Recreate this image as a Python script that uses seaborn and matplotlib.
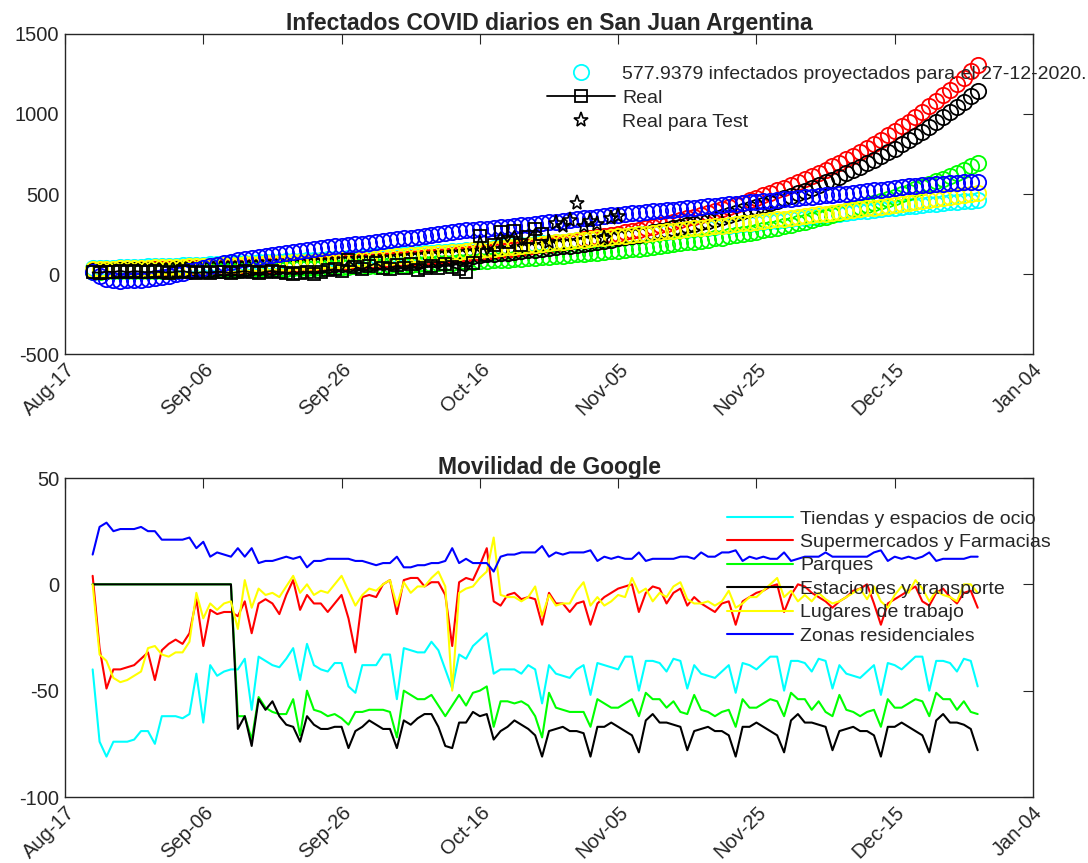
import numpy as np
import pandas as pd
import matplotlib
matplotlib.use("Agg")
import matplotlib.pyplot as plt
import matplotlib.dates as mdates
from matplotlib.lines import Line2D
from matplotlib.ticker import FixedLocator
import seaborn as sns

# ---------------- data ----------------
proj_start = "2020-08-21"
n_days = 129

proj_cyan = [35, 37, 38, 39, 41, 42, 44, 45, 47, 48, 50, 51, 52, 54, 55, 57, 58,
             60, 62, 64, 66, 67, 69, 71, 73, 75, 77, 78, 80, 82, 84, 86, 88, 89, 91, 93, 95,
             98, 101, 104, 107, 110, 113, 116, 119, 122, 125, 128, 131, 134, 137, 140, 143, 146, 149, 152, 155,
             159, 163, 167, 171, 175, 179, 183, 187, 191, 195, 199, 203, 207, 211, 215, 219, 223, 227, 231, 235,
             239, 244, 248, 252, 256, 260, 265, 269, 273, 277, 281, 286, 290, 294, 298, 302, 307, 311, 315, 320,
             325, 330, 334, 339, 344, 349, 353, 358, 363, 368, 372, 377, 382, 387, 391, 396, 401, 406, 410, 415,
             419, 423, 427, 431, 435, 439, 443, 447, 451, 454, 458, 462]
proj_red = [23, 24, 24, 25, 26, 27, 28, 29, 30, 30,
            31, 32, 33, 35, 36, 37, 38, 39, 40, 42,
            43, 45, 46, 47, 49, 51, 52, 54, 56, 57,
            59, 61, 63, 65, 67, 69, 71, 74, 76, 79,
            81, 84, 86, 89, 92, 95, 98, 101, 104, 108,
            111, 115, 118, 122, 126, 130, 134, 139, 143, 148,
            152, 157, 162, 168, 173, 179, 184, 190, 196, 203,
            209, 216, 223, 230, 237, 245, 253, 261, 269, 278,
            287, 296, 306, 315, 325, 336, 347, 358, 369, 381,
            393, 406, 419, 432, 446, 461, 475, 491, 506, 523,
            540, 557, 575, 593, 612, 632, 652, 673, 695, 717,
            740, 764, 788, 814, 840, 867, 894, 923, 953, 983,
            1015, 1048, 1081, 1116, 1152, 1189, 1227, 1266, 1307]
proj_green = [15, 15, 16, 16, 17, 17, 18, 18, 19, 20,
              20, 21, 21, 22, 23, 23, 24, 25, 26, 26,
              27, 28, 29, 30, 31, 32, 32, 33, 34, 36,
              37, 38, 39, 40, 41, 43, 44, 45, 47, 48,
              49, 51, 53, 54, 56, 57, 59, 61, 63, 65,
              67, 69, 71, 73, 75, 78, 80, 82, 85, 87,
              90, 93, 96, 99, 102, 105, 108, 111, 115, 118,
              122, 125, 129, 133, 137, 141, 146, 150, 155, 159,
              164, 169, 174, 180, 185, 191, 197, 202, 209, 215,
              222, 228, 235, 243, 250, 258, 265, 273, 282, 290,
              299, 308, 318, 327, 337, 348, 358, 369, 380, 392,
              404, 416, 429, 442, 455, 469, 483, 498, 513, 529,
              545, 562, 579, 596, 615, 633, 653, 672, 693]
proj_black = [20, 21, 21, 22, 23, 24, 24, 25, 26, 27,
              28, 28, 29, 30, 31, 32, 33, 34, 35, 37,
              38, 39, 40, 42, 43, 44, 46, 47, 49, 50,
              52, 54, 55, 57, 59, 61, 63, 65, 67, 69,
              71, 73, 76, 78, 81, 83, 86, 89, 92, 94,
              97, 101, 104, 107, 111, 114, 118, 122, 126, 129,
              134, 138, 142, 147, 152, 157, 162, 167, 172, 178,
              183, 189, 195, 202, 208, 215, 222, 229, 236, 244,
              252, 260, 268, 277, 285, 295, 304, 314, 324, 334,
              345, 356, 368, 379, 391, 404, 417, 430, 444, 458,
              473, 488, 504, 520, 537, 554, 572, 590, 609, 629,
              649, 670, 691, 714, 736, 760, 784, 810, 836, 862,
              890, 919, 948, 979, 1010, 1043, 1076, 1110, 1146]
proj_yellow = [30, 31, 33, 34, 35, 36, 38, 39, 40, 41, 43, 44, 45, 46, 48, 49, 50,
               52, 54, 55, 57, 59, 61, 62, 64, 66, 68, 69, 71, 73, 75, 76, 78, 80, 82, 83, 85,
               88, 91, 95, 98, 101, 105, 108, 111, 114, 118, 121, 124, 127, 131, 134, 137, 140, 144, 147, 150,
               154, 159, 163, 167, 171, 176, 180, 184, 188, 193, 197, 201, 205, 210, 214, 218, 222, 227, 231, 235,
               240, 244, 249, 253, 258, 262, 267, 271, 276, 280, 285, 289, 294, 298, 303, 307, 312, 316, 321, 325,
               330, 336, 341, 346, 352, 357, 362, 367, 373, 378, 383, 389, 394, 399, 405, 410, 415, 420, 426, 431,
               437, 443, 449, 456, 462, 468, 474, 480, 486, 492, 498, 504]
proj_blue = [15, -10, -30, -40, -42, -40, -38, -35, -30, -25, -18, -10, -2, 8, 18, 28, 38, 48, 57, 66,
             78, 86, 94, 101, 108, 114, 120, 126, 132, 139,
             145, 151, 157, 163, 168, 172, 177, 181, 186, 190, 195, 200, 205, 210, 216, 222, 228, 234,
             240, 246, 251, 256, 262, 268, 272, 276, 280, 284, 288, 292, 296, 300, 304, 308, 313, 318,
             323, 328, 333, 338, 343, 348, 353, 358, 363, 367, 371, 375, 379, 383,
             387, 391, 395, 399, 403, 407, 411, 415, 419, 423, 427, 431, 435, 439, 443, 447, 451, 455, 459, 463,
             467, 471, 475, 479, 483, 487, 491, 495, 499, 503, 507, 512, 517, 522, 527, 532, 537, 542, 547,
             551, 555, 559, 562, 565, 568, 571, 574, 576, 578]

real_start = "2020-08-21"
real_cases = [10, 8, 15, 12, 20, 10, 18, 14, 10, 16,
              12, 8, 14, 18, 10, 6, 12, 8, 15, 10,
              5, 12, 18, 10, 6, 14, 20, 12, 8, 0,
              5, 15, 0, 10, 25, 30, 20, 85, 45, 30,
              50, 68, 40, 30, 55, 35, 60, 25, 40, 50,
              35, 60, 45, 30, 15, 70, 240, 120, 180, 260,
              200, 270, 180, 230, 280, 250]
test_start = "2020-10-26"
test_cases = [200, 320, 300, 340, 446, 300, 330, 310, 225, 350, 365]

mob_start = "2020-08-21"
tiendas = [-40, -74, -81, -74, -74, -74, -73, -69, -69, -75, -62, -62, -62, -63, -61, -42, -65, -38, -43, -41,
           -40, -40, -35, -59, -34, -36, -38, -39, -35, -30, -45, -28, -38, -40, -41, -37, -37, -48, -51, -38,
           -38, -38, -33, -33, -54, -30, -31, -32, -32, -27, -31, -40, -49, -33, -35, -29, -26, -23, -42, -40,
           -40, -40, -42, -38, -40, -56, -38, -42, -43, -44, -40,
           -38, -52, -37, -38, -39, -40, -34, -34, -50, -36, -36, -37, -41, -35, -36, -49, -38, -42, -43, -44,
           -41, -38, -51, -37, -38, -40, -37, -34, -34, -50, -36, -36, -37, -41, -35, -36, -49, -38, -42, -43,
           -44, -41, -38, -52, -37, -38, -40, -37, -34, -34, -50, -36, -36, -37, -41, -35, -36, -48]
supermercados = [4, -30, -49, -40, -40, -39, -38, -35, -32, -45, -31, -28, -26, -28, -23, -7, -29, -12, -14, -13,
                 -13, -15, -8, -23, -9, -7, -9, -14, -5, 2, -12, -5, -9, -9, -13, -9, -5, -16, -32, -6,
                 -5, -6, 0, 2, -14, 2, 3, 3, -1, 1, 1, -5, -29, 1, 3, 2, 9, 17, -8, -10,
                 -5, -4, -7, -6, -7, -19, -4, -9, -9, -13, -9,
                 -8, -19, -9, -6, -4, -2, -1, 0, -13, -4, -1, -2, -9, -4, -2, -10, -6, -9, -11, -13,
                 -9, -8, -19, -8, -6, -4, -3, -1, 0, -13, -5, 0, -1, -4, -6, -8, -11, -8, -6, -3,
                 -2, 0, -9, -19, -9, -7, -5, -3, -1, -8, -10, -4, -2, -6, -9, -4, -3, -11]
parques = [0] * 21 + [
    -62, -62, -73, -53, -58, -60, -61, -61, -54, -71, -50, -59, -60, -62, -61, -63, -66, -60, -60, -59,
    -59, -59, -60, -72, -50, -52, -54, -54, -52, -57, -62, -57, -52, -57, -51, -50, -48, -67, -55, -55,
    -56, -55, -57, -62, -72, -51, -58, -59, -60, -60,
    -60, -67, -54, -56, -58, -58, -56, -54, -62, -51, -54, -54, -58, -55, -60, -61, -52, -59, -60, -62,
    -60, -59, -67, -54, -58, -58, -56, -54, -55, -62, -51, -54, -54, -59, -55, -60, -62, -52, -59, -60,
    -62, -60, -59, -67, -54, -58, -58, -56, -54, -55, -62, -51, -54, -54, -59, -55, -60, -61]
estaciones = [0] * 21 + [
    -68, -62, -76, -54, -59, -55, -62, -66, -67, -74, -62, -66, -68, -68, -67, -67, -77, -69, -67, -64,
    -66, -68, -68, -77, -64, -66, -63, -61, -61, -67, -76, -77, -65, -65, -60, -62, -61, -73, -69, -67,
    -64, -66, -68, -71, -81, -69, -68, -67, -69, -69,
    -70, -81, -67, -67, -65, -67, -69, -71, -79, -64, -61, -65, -65, -66, -67, -78, -69, -68, -67, -69,
    -69, -71, -81, -67, -67, -65, -67, -69, -71, -79, -64, -61, -65, -65, -66, -67, -78, -69, -68, -67,
    -69, -69, -71, -81, -67, -67, -65, -67, -69, -71, -79, -64, -61, -65, -65, -66, -68, -78]
trabajo = [0, -33, -36, -44, -46, -45, -43, -41, -30, -29, -33, -34, -32, -32, -27, -4, -16, -9, -12, -9,
           -8, -21, 2, -11, -2, -5, -4, -6, -1, 4, -4, 0, -5, -3, -4, 0, 4, -3, -10, -5,
           -2, -3, 0, 2, -10, 1, -4, -1, -1, 3, 6, -1, -50, -4, -2, -1, 3, 6, 22, -5,
           -6, -6, -8, -6, -1, -15, -5, -10, -9, -9, -3,
           1, -10, -6, -10, -8, -5, -6, 3, -4, -2, -8, -4, -6, -1, 1, -7, -9, -9, -8, -10,
           -8, -3, -11, -9, -6, -6, -3, 0, 3, -6, -3, -8, -5, -8, -4, -7, -9, -8, -6, -4,
           -2, -7, -1, -8, -11, -5, -1, -4, 2, -2, -8, -3, -5, -6, -8, 0, 0, -4]
residenciales = [14, 27, 29, 25, 26, 26, 26, 27, 25, 25, 21, 21, 21, 21, 22, 17, 20, 13, 15, 14,
                 13, 17, 13, 17, 10, 11, 11, 12, 13, 12, 13, 8, 11, 11, 12, 12, 12, 12, 11, 11,
                 10, 9, 10, 10, 13, 8, 8, 9, 9, 10, 10, 11, 17, 10, 12, 10, 10, 10, 6, 13,
                 14, 14, 15, 15, 15, 18, 13, 15, 14, 15, 15,
                 15, 16, 11, 13, 12, 13, 12, 12, 15, 11, 12, 12, 12, 12, 13, 13, 12, 15, 13, 13,
                 15, 15, 16, 11, 13, 12, 13, 12, 12, 15, 11, 12, 13, 13, 13, 15, 13, 13, 13, 13,
                 13, 13, 15, 16, 11, 13, 12, 13, 12, 13, 15, 11, 12, 12, 12, 12, 13, 13]

legend_top = ["577.9379 infectados proyectados para el 27-12-2020.", "Real", "Real para Test"]
legend_bottom = ["Tiendas y espacios de ocio", "Supermercados y Farmacias", "Parques",
                 "Estaciones y transporte", "Lugares de trabajo", "Zonas residenciales"]
title_top = "Infectados COVID diarios en San Juan Argentina"
title_bottom = "Movilidad de Google"
xtick_dates = ["2020-08-17", "2020-09-06", "2020-09-26", "2020-10-16",
               "2020-11-05", "2020-11-25", "2020-12-15", "2021-01-04"]
yticks_top = [-500, 0, 500, 1000, 1500]
yticks_bottom = [-100, -50, 0, 50]

# ---------------- style ----------------
sns.set_style("white")
plt.rcParams["font.family"] = ["Liberation Sans", "DejaVu Sans"]
plt.rcParams["axes.edgecolor"] = "#262626"
plt.rcParams["axes.linewidth"] = 1.0
plt.rcParams["axes.unicode_minus"] = False

W, H = 1088, 863
fig = plt.figure(figsize=(W / 100, H / 100), dpi=100)
ax1 = fig.add_axes([65 / W, 1 - 354 / H, (1033 - 65) / W, (354 - 34) / H])
ax2 = fig.add_axes([65 / W, 1 - 797 / H, (1033 - 65) / W, (797 - 478) / H])

proj_dates = pd.date_range(proj_start, periods=n_days)
df_proj = pd.DataFrame({"fecha": proj_dates, "cyan": proj_cyan, "red": proj_red,
                        "green": proj_green, "black": proj_black,
                        "yellow": proj_yellow, "blue": proj_blue})
colors = {"cyan": "#00FFFF", "red": "#FF0000", "green": "#00FF00", "black": "#000000",
          "yellow": "#FFFF00", "blue": "#0000FF"}

circle_kw = dict(linestyle="", marker="o", markersize=11, markerfacecolor="none",
                 markeredgewidth=1.3)
for i, name in enumerate(["cyan", "red", "green", "black", "yellow", "blue"]):
    sns.lineplot(data=df_proj, x="fecha", y=name, ax=ax1, color=colors[name],
                 markeredgecolor=colors[name], zorder=2 + i * 0.1, **circle_kw)

df_real = pd.DataFrame({"fecha": pd.date_range(real_start, periods=len(real_cases)),
                        "casos": real_cases})
sns.lineplot(data=df_real, x="fecha", y="casos", ax=ax1, color="k", lw=1.3,
             marker="s", markersize=8, markerfacecolor="none", markeredgecolor="k",
             markeredgewidth=1.3, zorder=5)
df_test = pd.DataFrame({"fecha": pd.date_range(test_start, periods=len(test_cases)),
                        "casos": test_cases})
sns.lineplot(data=df_test, x="fecha", y="casos", ax=ax1, color="k", linestyle="",
             marker="*", markersize=11, markerfacecolor="none", markeredgecolor="k",
             markeredgewidth=1.2, zorder=6)

# bottom
mob_dates = pd.date_range(mob_start, periods=n_days)
df_mob = pd.DataFrame({"fecha": mob_dates, "t": tiendas, "s": supermercados, "p": parques,
                       "e": estaciones, "l": trabajo, "z": residenciales})
mob_keys = ["t", "s", "p", "e", "l", "z"]
mob_colors = ["#00FFFF", "#FF0000", "#00FF00", "#000000", "#FFFF00", "#0000FF"]
for col, c in zip(mob_keys, mob_colors):
    sns.lineplot(data=df_mob, x="fecha", y=col, ax=ax2, color=c, lw=1.5)

tick_nums = mdates.date2num(pd.to_datetime(xtick_dates))
for ax, yt in [(ax1, yticks_top), (ax2, yticks_bottom)]:
    ax.set_xlim(tick_nums[0], tick_nums[-1])
    ax.set_ylim(yt[0], yt[-1])
    ax.xaxis.set_major_locator(FixedLocator(tick_nums))
    ax.xaxis.set_major_formatter(mdates.DateFormatter("%b-%d"))
    ax.set_yticks(yt)
    ax.set_xlabel("")
    ax.set_ylabel("")
    ax.tick_params(direction="in", length=7, width=0.8, top=True, right=True,
                   labelsize=14.5, colors="#262626", pad=4)
    for lab in ax.get_xticklabels():
        lab.set_rotation(45)
        lab.set_ha("right")
        lab.set_rotation_mode("anchor")
    for sp in ax.spines.values():
        sp.set_visible(True)
        sp.set_color("#262626")

ax1.set_title(title_top, fontsize=16.5, fontweight="bold", pad=3)
ax2.set_title(title_bottom, fontsize=16.5, fontweight="bold", pad=3)

h_top = [Line2D([], [], linestyle="", marker="o", markersize=11, markerfacecolor="none",
                markeredgecolor="#00FFFF", markeredgewidth=1.3),
         Line2D([], [], color="k", lw=1.3, marker="s", markersize=8, markerfacecolor="none",
                markeredgewidth=1.3),
         Line2D([], [], linestyle="", color="k", marker="*", markersize=11,
                markerfacecolor="none", markeredgewidth=1.2)]
fig.legend(h_top, legend_top, loc="upper left", bbox_to_anchor=(547 / W, 1 - 65 / H),
           frameon=False, fontsize=14, handlelength=3.5, handletextpad=0.36,
           labelspacing=0.33, borderpad=0, borderaxespad=0)

h_bot = [Line2D([], [], color=c, lw=1.5) for c in mob_colors]
fig.legend(h_bot, legend_bottom, loc="upper left", bbox_to_anchor=(727 / W, 1 - 510 / H),
           frameon=False, fontsize=14, handlelength=3.4, handletextpad=0.36,
           labelspacing=0.30, borderpad=0, borderaxespad=0)

fig.savefig("out.png", dpi=100)
